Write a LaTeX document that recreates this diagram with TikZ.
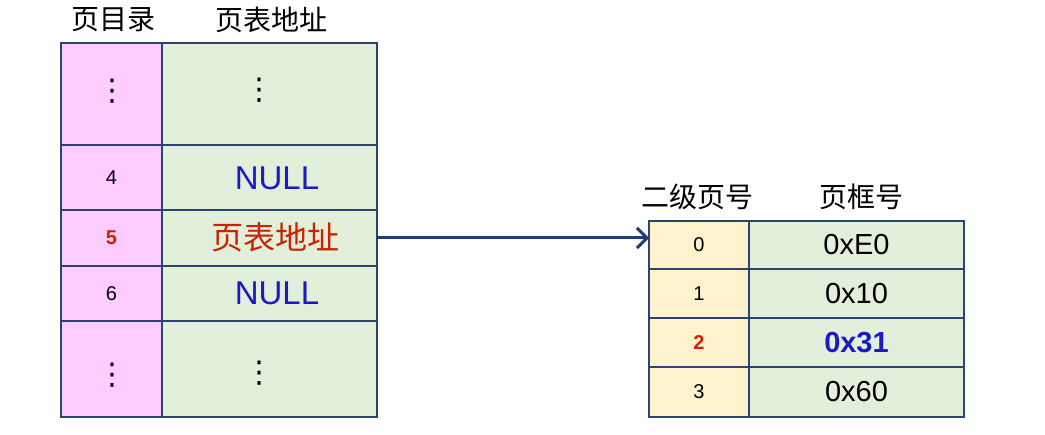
\documentclass[tikz,border=0pt]{standalone}
\usepackage{fontspec}
\setmainfont{Liberation Sans}
\newfontfamily\cjk{Noto Sans CJK SC}
\newfontfamily\symfont{DejaVu Sans}
\usetikzlibrary{arrows.meta}
\definecolor{pinkc}{HTML}{FFCCFF}
\definecolor{greenc}{HTML}{E2EFDA}
\definecolor{orangec}{HTML}{FFF2CC}
\definecolor{borderc}{HTML}{2B4570}
\definecolor{arrowc}{HTML}{1F3C78}
\definecolor{nullblue}{HTML}{1A1AC8}
\definecolor{redc}{HTML}{CC2200}
\tikzset{
  cell/.style={draw=borderc, line width=1.2pt, inner sep=0pt, outer sep=0pt, anchor=center},
  pinkcell/.style={cell, fill=pinkc},
  greencell/.style={cell, fill=greenc},
  orangecell/.style={cell, fill=orangec},
  head/.style={font=\cjk\fontsize{28}{30}\selectfont, text=black, inner sep=0pt},
  small/.style={font=\fontsize{20}{22}\selectfont},
  nulltxt/.style={font=\fontsize{33}{35}\selectfont, text=nullblue, inner sep=0pt},
  hex/.style={font=\fontsize{29}{31}\selectfont},
  dots/.style={font=\symfont\fontsize{30}{32}\selectfont, inner sep=0pt},
}
\begin{document}
\begin{tikzpicture}[x=1pt,y=-1pt]
\useasboundingbox (0,0) rectangle (1045,435);
% left table
\node[pinkcell, minimum width=101pt, minimum height=102pt] (La) at (111.5,94) {};
\node[greencell, minimum width=215pt, minimum height=102pt] (Lb) at (269.5,94) {};
\node[pinkcell, minimum width=101pt, minimum height=65pt, small] (L4a) at (111.5,177.5) {4};
\node[greencell, minimum width=215pt, minimum height=65pt] (L4b) at (269.5,177.5) {};
\node[pinkcell, minimum width=101pt, minimum height=56pt, small, text=redc, font=\bfseries\fontsize{20}{22}\selectfont] (L5a) at (111.5,238) {5};
\node[greencell, minimum width=215pt, minimum height=56pt] (L5b) at (269.5,238) {};
\node[pinkcell, minimum width=101pt, minimum height=55pt, small] (L6a) at (111.5,293.5) {6};
\node[greencell, minimum width=215pt, minimum height=55pt] (L6b) at (269.5,293.5) {};
\node[pinkcell, minimum width=101pt, minimum height=96pt] (Lza) at (111.5,369) {};
\node[greencell, minimum width=215pt, minimum height=96pt] (Lzb) at (269.5,369) {};
% texts in left table
\node[dots] (dA) at (112,91.5) {⋮};
\node[dots] (dB) at (259.5,90.5) {⋮};
\node[dots] (dC) at (112,375) {⋮};
\node[dots] (dD) at (259.5,373.5) {⋮};
\node[nulltxt] (n4) at (277,178) {NULL};
\node[nulltxt] (n6) at (277,293) {NULL};
\node[text=redc, font=\cjk\fontsize{32}{34}\selectfont, inner sep=0pt] (pt5) at (275,237) {页表地址};
% headers left
\node[head] (hL1) at (113,20) {页目录};
\node[head] (hL2) at (271,20) {页表地址};
% right table
\node[orangecell, minimum width=100pt, minimum height=48pt, small] (R0a) at (699,245) {0};
\node[greencell, minimum width=215pt, minimum height=48pt, hex] (R0b) at (856.5,245) {0xE0};
\node[orangecell, minimum width=100pt, minimum height=49pt, small] (R1a) at (699,293.5) {1};
\node[greencell, minimum width=215pt, minimum height=49pt, hex] (R1b) at (856.5,293.5) {0x10};
\node[orangecell, minimum width=100pt, minimum height=49pt, text=redc, font=\bfseries\fontsize{20}{22}\selectfont] (R2a) at (699,342.5) {2};
\node[greencell, minimum width=215pt, minimum height=49pt, text=nullblue, font=\bfseries\fontsize{29}{31}\selectfont] (R2b) at (856.5,342.5) {0x31};
\node[orangecell, minimum width=100pt, minimum height=50pt, small] (R3a) at (699,392) {3};
\node[greencell, minimum width=215pt, minimum height=50pt, hex] (R3b) at (856.5,392) {0x60};
% headers right
\node[head] (hR1) at (697,197) {二级页号};
\node[head] (hR2) at (861,197) {页框号};
% arrow
\draw[draw=arrowc, line width=3pt, -{Straight Barb[length=10pt,width=20pt,line width=3pt]}] (L5b.east) -- (L5b.east -| R0a.west);
\end{tikzpicture}
\end{document}
